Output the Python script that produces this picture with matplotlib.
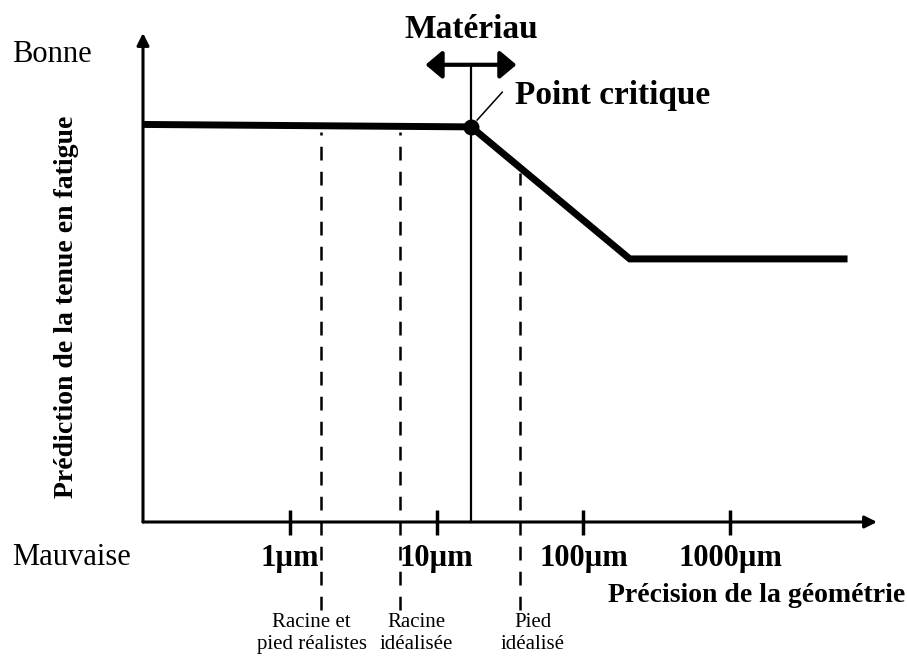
import numpy as np
import matplotlib
matplotlib.use("Agg")
import matplotlib.pyplot as plt
from matplotlib.ticker import NullLocator

plt.rcParams['font.family'] = ['Liberation Serif', 'DejaVu Serif']

# geometry precision (µm) vs predicted fatigue strength (arbitrary scale 0-10)
prec_um = [0.1, 17.2, 207, 6300]
tenue = [8.13, 8.08, 5.38, 5.38]

tick_um = [1, 10, 100, 1000]
tick_labels = ['1µm', '10µm', '100µm', '1000µm']

critique_um = 17.2
materiau_range = [8.4, 35]

modele_um = [1.64, 5.6, 37]
modele_labels = ['Racine et\npied réalistes', 'Racine\nidéalisée', 'Pied\nidéalisé']
label_dx = [-7, 12, 9]   # points, text offset from its dashed line

W, H = 907, 656
fig = plt.figure(figsize=(W / 100, H / 100), dpi=100)
ax = fig.add_axes([143 / W, (H - 522) / H, 734 / W, 489 / H])
ax.set_xscale('log')
ax.set_xlim(0.1, 1e4)
ax.set_ylim(0, 10)
for s in ax.spines.values():
    s.set_visible(False)

# axes drawn as arrows
arr = dict(arrowstyle='-|>,head_length=0.6,head_width=0.3', lw=2.2, color='black',
           mutation_scale=12, shrinkA=0, shrinkB=0)
ax.annotate('', xy=(1, 0), xytext=(0, 0), xycoords='axes fraction', arrowprops=arr)
ax.annotate('', xy=(0, 1), xytext=(0, 0), xycoords='axes fraction', arrowprops=arr)

ax.set_xticks(tick_um)
ax.set_xticklabels(tick_labels, fontsize=22, fontweight='bold')
ax.xaxis.set_minor_locator(NullLocator())
ax.tick_params(axis='x', direction='inout', length=18, width=2.5, pad=7)
ax.set_yticks([])

# main curve
ax.plot(prec_um, tenue, color='black', lw=5, solid_capstyle='butt',
        solid_joinstyle='miter', clip_on=False, zorder=3)

# dashed lines for the geometric models
y_bottom = -1.8
for xm, lab, dx in zip(modele_um, modele_labels, label_dx):
    y_top = np.interp(np.log10(xm), np.log10(prec_um), tenue) - 0.12
    ax.plot([xm, xm], [y_bottom, y_top], color='black', lw=1.8,
            dashes=(5.5, 4.5), clip_on=False)
    ax.annotate(lab, xy=(xm, 0), xytext=(dx, -80), textcoords='offset points',
                ha='center', va='center', fontsize=15, linespacing=1.2,
                annotation_clip=False)

# material scale: vertical line, double arrow, critical point
ax.plot([critique_um, critique_um], [0, 9.35], color='black', lw=1.6, clip_on=False)
ax.annotate('', xy=(materiau_range[1], 9.35), xytext=(materiau_range[0], 9.35),
            arrowprops=dict(arrowstyle='<|-|>,head_length=0.5,head_width=0.42',
                            lw=3, color='black', mutation_scale=20,
                            shrinkA=0, shrinkB=0),
            annotation_clip=False)
ax.text(critique_um, 9.9, 'Matériau', ha='center', va='baseline',
        fontsize=24, fontweight='bold', clip_on=False)
ax.plot([critique_um], [tenue[1]], 'o', color='black', ms=10.5, zorder=4)
ax.plot([18.9, 28], [8.22, 8.79], color='black', lw=1.1)
ax.text(34.3, 8.73, 'Point critique', ha='left', va='center',
        fontsize=24, fontweight='bold')

# axis captions
fig.text(12 / W, 1 - 62 / H, 'Bonne', fontsize=22, va='baseline', ha='left')
fig.text(12 / W, 1 - 565 / H, 'Mauvaise', fontsize=22, va='baseline', ha='left')
fig.text(67 / W, 1 - 307 / H, 'Prédiction de la tenue en fatigue', rotation=90,
         ha='center', va='center', fontsize=20, fontweight='bold')
fig.text(905 / W, 1 - 602 / H, 'Précision de la géométrie', ha='right',
         va='baseline', fontsize=20, fontweight='bold')

fig.savefig('out.png', dpi=100, facecolor='white')
